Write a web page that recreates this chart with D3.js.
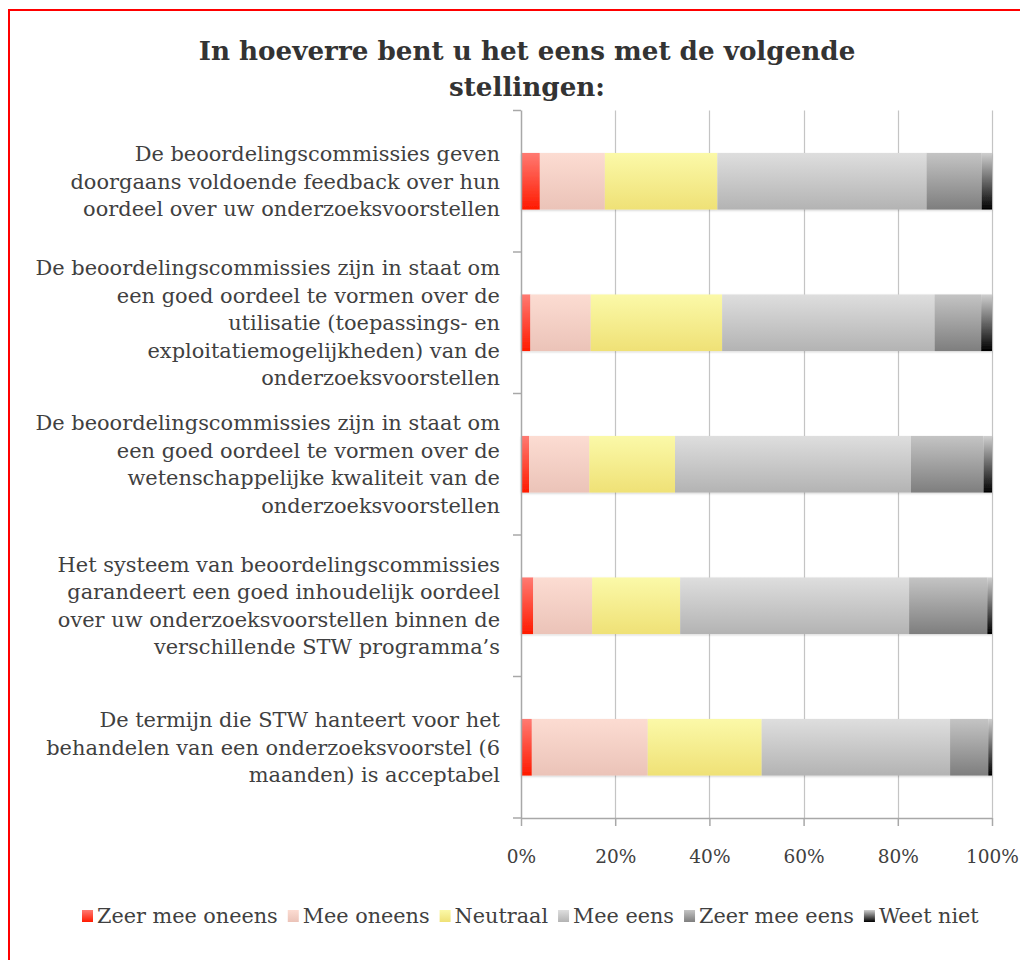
<!DOCTYPE html>
<html><head><meta charset="utf-8">
<script src="https://cdn.jsdelivr.net/npm/d3@7"></script>
<style>body{margin:0;background:#fff}</style>
</head><body>
<svg id="c" width="1020" height="960"></svg>
<script>
// ---- data ----
const categories = [
  ["De beoordelingscommissies geven", "doorgaans voldoende feedback over hun", "oordeel over uw onderzoeksvoorstellen"],
  ["De beoordelingscommissies zijn in staat om", "een goed oordeel te vormen over de", "utilisatie (toepassings- en", "exploitatiemogelijkheden) van de", "onderzoeksvoorstellen"],
  ["De beoordelingscommissies zijn in staat om", "een goed oordeel te vormen over de", "wetenschappelijke kwaliteit van de", "onderzoeksvoorstellen"],
  ["Het systeem van beoordelingscommissies", "garandeert een goed inhoudelijk oordeel", "over uw onderzoeksvoorstellen binnen de", "verschillende STW programma’s"],
  ["De termijn die STW hanteert voor het", "behandelen van een onderzoeksvoorstel (6", "maanden) is acceptabel"]
];
const seriesNames = ["Zeer mee oneens", "Mee oneens", "Neutraal", "Mee eens", "Zeer mee eens", "Weet niet"];
const zeerMeeOneens = [4.0, 2.0, 1.7, 2.6, 2.3];
const meeOneens     = [13.8, 12.8, 12.8, 12.5, 24.6];
const neutraal      = [23.9, 27.9, 18.2, 18.7, 24.2];
const meeEens       = [44.4, 45.1, 50.1, 48.6, 40.0];
const zeerMeeEens   = [11.7, 9.9, 15.4, 16.6, 8.1];
const weetNiet      = [2.2, 2.3, 1.8, 1.0, 0.8];
const tickValues = [0, 0.2, 0.4, 0.6, 0.8, 1.0];
const titleLines = ["In hoeverre bent u het eens met de volgende", "stellingen:"];

// ---- styles ----
const gradStops = [
  ["#ff7a72", "#ff1a00"],
  ["#fcdcd2", "#ebc3b8"],
  ["#fbf9a8", "#efe176"],
  ["#dedede", "#b3b3b3"],
  ["#c4c4c4", "#7e7e7e"],
  ["#cfcfcf", "#000000"]
];
const FONT = "'DejaVu Serif', Georgia, serif";
const TXT = "#404040";

(function draw() {
const svg = d3.select("#c");
svg.append("rect").attr("width", 1020).attr("height", 960).attr("fill", "#fff");

// border (red frame top and left)
svg.append("line").attr("x1", 8).attr("x2", 1020).attr("y1", 10).attr("y2", 10).attr("stroke", "#ff0000").attr("stroke-width", 2);
svg.append("line").attr("x1", 9).attr("x2", 9).attr("y1", 10).attr("y2", 960).attr("stroke", "#ff0000").attr("stroke-width", 2);

const defs = svg.append("defs");
gradStops.forEach((s, i) => {
  const g = defs.append("linearGradient").attr("id", "g" + i).attr("x1", 0).attr("y1", 0).attr("x2", 0).attr("y2", 1);
  g.append("stop").attr("offset", "0%").attr("stop-color", s[0]);
  g.append("stop").attr("offset", "100%").attr("stop-color", s[1]);
});
const sh = defs.append("filter").attr("id", "sh").attr("x", "-5%").attr("y", "-20%").attr("width", "110%").attr("height", "140%");
sh.append("feDropShadow").attr("dx", 0).attr("dy", 1).attr("stdDeviation", 1.2).attr("flood-color", "#000").attr("flood-opacity", 0.18);

const pL = 521, pR = 992, pT = 110.5, pB = 818;
const x = d3.scaleLinear().domain([0, 1]).range([pL, pR]);
const y = d3.scaleBand().domain(d3.range(categories.length)).range([pT, pB]).padding(0);

// gridlines
svg.append("g").selectAll("line").data(tickValues.slice(1)).join("line")
  .attr("x1", d => Math.round(x(d)) + 0.5).attr("x2", d => Math.round(x(d)) + 0.5)
  .attr("y1", pT).attr("y2", pB).attr("stroke", "#c4c4c4").attr("stroke-width", 1.2);

// bars
const rows = categories.map((c, i) => {
  const r = {i};
  r[seriesNames[0]] = zeerMeeOneens[i];
  r[seriesNames[1]] = meeOneens[i];
  r[seriesNames[2]] = neutraal[i];
  r[seriesNames[3]] = meeEens[i];
  r[seriesNames[4]] = zeerMeeEens[i];
  r[seriesNames[5]] = weetNiet[i];
  return r;
});
const stack = d3.stack().keys(seriesNames).offset(d3.stackOffsetExpand)(rows);
const barH = y.step() * 0.4;
const barG = svg.append("g").attr("filter", "url(#sh)");
stack.forEach((layer, si) => {
  barG.append("g").selectAll("rect").data(layer).join("rect")
    .attr("x", d => x(d[0]))
    .attr("width", d => x(d[1]) - x(d[0]))
    .attr("y", (d, i) => y(i) + (y.step() - barH) / 2)
    .attr("height", barH)
    .attr("fill", `url(#g${si})`);
});

// left axis
const axCol = "#a8a8a8";
svg.append("line").attr("x1", pL + 0.5).attr("x2", pL + 0.5).attr("y1", pT).attr("y2", pB).attr("stroke", axCol).attr("stroke-width", 1.5);
const bounds = d3.range(categories.length + 1).map(i => i < categories.length ? y(i) : pB);
svg.append("g").selectAll("line").data(bounds).join("line")
  .attr("x1", pL - 8).attr("x2", pL).attr("y1", d => d).attr("y2", d => d)
  .attr("stroke", axCol).attr("stroke-width", 1.5);

// bottom axis
const xAxis = d3.axisBottom(x).tickValues(tickValues).tickFormat(d3.format(".0%")).tickSize(8).tickPadding(24);
const ax = svg.append("g").attr("transform", `translate(0,${pB})`).call(xAxis);
ax.select(".domain").attr("stroke", axCol).attr("stroke-width", 1.5).attr("d", `M${pL},0.5H${pR}`);
ax.selectAll(".tick line").attr("stroke", axCol).attr("stroke-width", 1.5);
ax.selectAll(".tick text").attr("fill", TXT).style("font-family", FONT).style("font-size", "18.5px");

// category labels
const labG = svg.append("g");
const lineH = 27.5;
categories.forEach((lines, i) => {
  const cy = y(i) + y.step() / 2;
  const y0 = cy - (lines.length - 1) * lineH / 2;
  lines.forEach((t, j) => {
    labG.append("text").attr("x", 500).attr("y", y0 + j * lineH).attr("dy", "0.35em")
      .attr("text-anchor", "end").attr("fill", TXT)
      .style("font-family", FONT).style("font-size", "18px").text(t);
  });
});
{
  const nodes = labG.selectAll("text").nodes();
  const ref = nodes.find(n => n.textContent === "De beoordelingscommissies zijn in staat om");
  const w = ref.getComputedTextLength();
  const fs = 18 * 465 / w;
  labG.selectAll("text").style("font-size", fs + "px");
}

// title
const tG = svg.append("g");
titleLines.forEach((t, j) => {
  tG.append("text").attr("x", 527).attr("y", 60 + j * 36).attr("text-anchor", "middle")
    .attr("fill", "#333").style("font-family", FONT).style("font-weight", "bold").style("font-size", "24px").text(t);
});
{
  const n = tG.select("text").node();
  const w = n.getComputedTextLength();
  tG.selectAll("text").style("font-size", (24 * 657 / w) + "px");
}

// legend: measure text at 17px, then scale so the legend spans the reference width
const legG = svg.append("g");
const legY = 916, sq = 11, sqGap = 4, itemGap = 10, legStart = 82, legWidth = 897;
const texts = seriesNames.map(name => legG.append("text").attr("fill", TXT)
    .style("font-family", FONT).style("font-size", "17px").text(name));
const sumW = d3.sum(texts, t => t.node().getComputedTextLength());
const avail = legWidth - seriesNames.length * (sq + sqGap) - (seriesNames.length - 1) * itemGap;
const lfs = 17 * avail / sumW;
let lx = legStart;
texts.forEach((t, i) => {
  t.style("font-size", lfs + "px");
  legG.append("rect").attr("x", lx).attr("y", legY - 6).attr("width", sq).attr("height", 12).attr("fill", `url(#g${i})`);
  t.attr("x", lx + sq + sqGap).attr("y", legY).attr("dy", "0.35em");
  lx += sq + sqGap + t.node().getComputedTextLength() + itemGap;
});
})();
</script>
</body></html>
